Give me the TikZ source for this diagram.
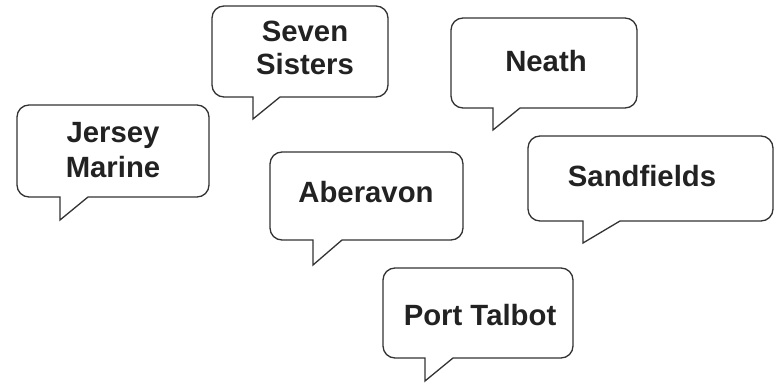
\documentclass[tikz,border=0pt]{standalone}
\usepackage{fontspec}
\setmainfont{Liberation Sans}
\definecolor{linec}{HTML}{333333}
\definecolor{textc}{HTML}{222222}
\newcommand\speechbubble[7]{% L B R T x1 x2 tip
  \draw[bubbleline] (#6,#2) -- (#3-12,#2) arc[start angle=-90,end angle=0,radius=12]
    -- (#3,#4-12) arc[start angle=0,end angle=90,radius=12]
    -- (#1+12,#4) arc[start angle=90,end angle=180,radius=12]
    -- (#1,#2+12) arc[start angle=180,end angle=270,radius=12]
    -- (#5,#2) -- (#5,#7) -- cycle;}
\begin{document}
\begin{tikzpicture}[x=1pt,y=1pt,
  bubbleline/.style={draw=linec,line width=1.3pt,line join=miter,fill=white},
  lbl/.style={anchor=base,inner sep=0pt,text=textc,font=\fontsize{29.3}{34}\selectfont\bfseries}]
\useasboundingbox (0,0) rectangle (776,383);
% Jersey Marine
\speechbubble{17}{186}{209}{278}{60}{88}{163}
\node[lbl] (jm1) at (113,240) {Jersey};
\node[lbl] (jm2) at (113,205) {Marine};
% Seven Sisters
\speechbubble{212}{286}{388}{377}{253}{280}{264}
\node[lbl] (ss1) at (305,341) {Seven};
\node[lbl] (ss2) at (305,308) {Sisters};
% Neath
\speechbubble{451}{275}{637}{365}{493}{520}{253}
\node[lbl] (ne) at (546,311) {Neath};
% Aberavon
\speechbubble{270}{143}{463}{231}{313}{342}{118}
\node[lbl] (ab) at (366,180) {Aberavon};
% Sandfields
\speechbubble{528}{162}{773}{247}{583}{620}{140}
\node[lbl] (sa) at (642,196) {Sandfields};
% Port Talbot
\speechbubble{383}{25}{573}{115}{425}{453}{2}
\node[lbl] (pt) at (480,58) {Port Talbot};
\end{tikzpicture}
\end{document}
